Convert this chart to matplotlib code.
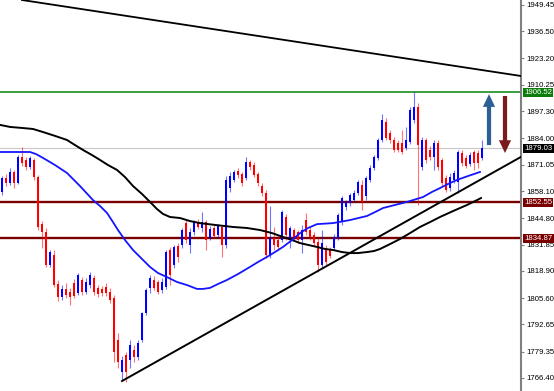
import matplotlib
matplotlib.use('Agg')
import matplotlib.pyplot as plt
import matplotlib.transforms as mtransforms
from matplotlib.patches import Rectangle

# candle data
opens = [1857.7, 1864.6, 1862.1, 1867.5, 1862.1, 1874.9, 1873.4, 1869.9, 1873.4, 1865.0,
         1841.9, 1838.0, 1821.8, 1826.7, 1812.5, 1806.2, 1810.1, 1808.6, 1813.0, 1808.1,
         1814.5, 1808.6, 1812.0, 1815.5, 1810.6, 1810.1, 1811.0, 1808.6, 1805.7, 1785.0,
         1769.3, 1777.7, 1775.2, 1780.1, 1776.7, 1785.0, 1798.3, 1810.6, 1814.5, 1813.5,
         1809.6, 1811.0, 1829.2, 1821.8, 1831.2, 1831.7, 1842.4, 1831.7, 1838.0, 1842.9,
         1840.0, 1842.9, 1835.1, 1840.0, 1836.6, 1840.5, 1831.7, 1859.6, 1863.6, 1868.0,
         1866.5, 1864.6, 1872.4, 1870.9, 1866.5, 1860.6, 1857.2, 1826.7, 1835.1, 1834.1,
         1834.1, 1845.4, 1835.1, 1839.0, 1838.0, 1834.1, 1843.9, 1839.0, 1836.6, 1833.1,
         1821.8, 1830.2, 1829.2, 1830.2, 1835.1, 1842.9, 1850.3, 1852.3, 1853.7, 1857.2,
         1861.1, 1855.7, 1863.6, 1869.5, 1874.4, 1883.2, 1892.0, 1886.6, 1883.2, 1881.7,
         1881.7, 1879.3, 1882.2, 1893.0, 1899.4, 1869.9, 1883.2, 1878.3, 1874.9, 1881.7,
         1873.4, 1864.6, 1859.6, 1863.6, 1862.6, 1876.8, 1874.4, 1871.4, 1877.3, 1876.8,
         1874.4]
highs = [1865.6, 1866.5, 1869.5, 1868.5, 1875.9, 1879.8, 1874.9, 1875.4, 1874.4, 1866.0,
         1843.4, 1840.0, 1829.2, 1829.2, 1814.5, 1812.0, 1813.0, 1810.6, 1815.0, 1817.9,
         1815.9, 1815.5, 1818.4, 1816.9, 1812.0, 1811.6, 1813.0, 1810.6, 1807.1, 1788.5,
         1777.2, 1779.1, 1785.0, 1782.6, 1785.0, 1798.8, 1810.6, 1816.9, 1816.4, 1814.5,
         1815.5, 1829.2, 1830.7, 1831.7, 1832.6, 1840.0, 1843.9, 1840.0, 1843.9, 1844.4,
         1847.8, 1843.9, 1841.0, 1841.5, 1841.9, 1841.5, 1865.6, 1867.5, 1868.5, 1869.5,
         1867.5, 1874.9, 1873.4, 1872.4, 1867.5, 1862.1, 1858.7, 1850.8, 1840.5, 1836.6,
         1848.8, 1846.9, 1841.0, 1840.0, 1839.0, 1841.5, 1847.4, 1840.5, 1838.0, 1835.1,
         1839.0, 1831.7, 1830.7, 1837.0, 1847.4, 1855.7, 1853.7, 1857.2, 1858.7, 1863.6,
         1863.6, 1865.6, 1870.9, 1875.9, 1884.2, 1896.0, 1894.0, 1888.1, 1884.7, 1883.2,
         1888.1, 1889.6, 1899.4, 1906.52, 1901.3, 1884.7, 1884.2, 1880.2, 1883.2, 1883.2,
         1874.4, 1866.0, 1867.0, 1868.5, 1878.3, 1878.3, 1875.9, 1877.3, 1878.3, 1878.3,
         1883.2]
lows = [1856.2, 1860.6, 1861.1, 1859.6, 1861.6, 1870.4, 1868.5, 1869.0, 1863.6, 1839.0,
        1830.2, 1820.9, 1820.9, 1811.0, 1804.2, 1804.7, 1805.7, 1802.2, 1805.7, 1807.1,
        1807.1, 1807.6, 1810.6, 1807.1, 1806.2, 1806.6, 1806.6, 1803.2, 1774.2, 1771.3,
        1764.9, 1764.4, 1771.3, 1774.2, 1775.2, 1784.0, 1797.3, 1808.1, 1809.6, 1807.6,
        1808.1, 1810.1, 1812.0, 1820.4, 1823.3, 1830.2, 1832.6, 1827.7, 1836.5, 1839.5,
        1838.0, 1829.2, 1834.1, 1835.1, 1835.1, 1825.8, 1830.2, 1857.7, 1862.6, 1864.6,
        1860.6, 1863.6, 1868.5, 1865.0, 1860.6, 1855.7, 1825.3, 1825.3, 1829.2, 1829.2,
        1833.1, 1834.1, 1830.2, 1834.1, 1832.6, 1827.7, 1836.6, 1834.1, 1831.2, 1818.4,
        1820.4, 1821.8, 1825.3, 1829.2, 1834.1, 1841.5, 1848.8, 1850.8, 1852.8, 1856.2,
        1848.8, 1853.7, 1862.6, 1868.5, 1873.4, 1882.2, 1883.2, 1881.7, 1877.3, 1877.3,
        1876.3, 1878.3, 1881.2, 1891.5, 1851.3, 1868.5, 1871.9, 1873.4, 1868.5, 1868.5,
        1860.6, 1857.7, 1858.2, 1862.1, 1857.2, 1870.4, 1869.5, 1870.4, 1868.5, 1869.5,
        1873.4]
closes = [1864.6, 1862.1, 1867.5, 1862.1, 1874.9, 1871.9, 1869.9, 1874.4, 1865.0, 1840.5,
          1838.0, 1821.8, 1828.2, 1812.0, 1806.2, 1810.1, 1807.1, 1806.2, 1806.6, 1816.9,
          1808.6, 1813.5, 1816.9, 1808.6, 1807.6, 1808.1, 1808.1, 1804.7, 1779.1, 1774.2,
          1775.2, 1769.3, 1782.6, 1776.7, 1783.6, 1798.3, 1809.6, 1815.5, 1810.6, 1808.6,
          1813.5, 1828.2, 1816.9, 1830.7, 1825.8, 1839.0, 1834.1, 1838.0, 1842.9, 1840.5,
          1842.9, 1834.1, 1839.5, 1836.1, 1841.5, 1831.7, 1863.6, 1865.6, 1867.5, 1866.0,
          1862.1, 1872.4, 1869.9, 1866.0, 1862.1, 1857.2, 1826.7, 1835.1, 1831.7, 1830.7,
          1847.8, 1836.6, 1840.0, 1835.6, 1834.1, 1839.0, 1838.0, 1835.6, 1832.6, 1821.8,
          1832.6, 1823.3, 1826.3, 1835.6, 1846.4, 1854.7, 1852.8, 1856.2, 1857.2, 1862.6,
          1852.8, 1864.6, 1869.5, 1874.9, 1883.2, 1893.0, 1884.2, 1883.2, 1878.3, 1878.3,
          1877.3, 1883.2, 1897.9, 1899.4, 1880.7, 1883.2, 1873.4, 1874.9, 1881.7, 1869.9,
          1862.1, 1858.7, 1865.0, 1867.0, 1877.3, 1871.9, 1870.4, 1875.9, 1871.9, 1871.9,
          1879.03]

# moving averages (sampled along the drawn curves, x in bar units)
ma_fast_x = [-0.5, 3.25, 7, 8.5, 10.25, 13.25, 16.25, 19.5, 22.75, 24.5, 26.25, 27.75, 29,
             30.75, 32.75, 35, 37, 39, 41.25, 43.75, 46.25, 48.75, 50.25, 52, 54, 56.25, 59,
             62, 64, 66.25, 68.25, 70.25, 72.5, 74.5, 76.5, 78.75, 82.75, 87, 91.25, 93.25,
             95.25, 98.25, 101.25, 105.25, 107.5, 109.5, 111.5, 113.75, 116.5, 119.5]
ma_fast_y = [1877.3, 1877.3, 1877.3, 1876.3, 1874.4, 1870.9, 1867.0, 1860.6, 1853.7, 1850.8,
             1847.4, 1842.9, 1839.0, 1834.1, 1829.2, 1824.8, 1820.9, 1817.9, 1815.9, 1813.5,
             1812.0, 1810.1, 1810.1, 1810.6, 1812.5, 1814.5, 1817.4, 1820.9, 1823.3, 1825.8,
             1828.2, 1830.7, 1834.1, 1837.5, 1840.0, 1841.9, 1842.4, 1843.9, 1845.9, 1847.8,
             1849.8, 1851.3, 1852.8, 1855.2, 1857.7, 1859.6, 1861.6, 1863.6, 1865.5, 1867.5]
ma_slow_x = [-0.5, 2, 5, 7.75, 10.25, 13.25, 16.25, 18.25, 20.25, 22.5, 24.5, 26.5, 28.75,
             30.75, 32.75, 35, 37, 38.75, 40.25, 42, 44.5, 47, 49.5, 53.25, 57.75, 61.25,
             64.5, 67.5, 70.25, 72.5, 74.5, 76.5, 78.75, 80.75, 82.75, 85, 87, 89, 91.25, 93,
             94.5, 97, 99.5, 102, 104.5, 107, 109.5, 112.75, 116.25, 118.25, 119.75]
ma_slow_y = [1890.6, 1889.6, 1889.1, 1888.6, 1887.1, 1885.2, 1883.2, 1880.7, 1878.3, 1875.8,
             1873.4, 1870.9, 1868.5, 1865.0, 1860.6, 1856.7, 1852.8, 1849.3, 1846.9, 1845.4,
             1844.9, 1843.4, 1842.4, 1841.5, 1840.5, 1840.0, 1839.0, 1837.5, 1835.6, 1834.1,
             1832.6, 1831.7, 1830.7, 1829.7, 1829.2, 1828.2, 1827.7, 1827.7, 1828.2, 1828.7,
             1829.7, 1832.1, 1834.6, 1837.5, 1840.5, 1842.9, 1845.4, 1848.3, 1851.3, 1853.2,
             1854.7]

# trend lines
upper_trend_x = [5, 129.75]
upper_trend_y = [1951.9, 1914.6]
lower_trend_x = [30, 129.75]
lower_trend_y = [1764.9, 1874.9]

# horizontal levels
resistance = 1906.52
last_price = 1879.03
support_levels = [1852.55, 1834.87]

tick_values = [1949.45, 1936.50, 1923.20, 1910.25, 1897.30, 1884.00, 1871.05, 1858.10,
               1844.80, 1831.85, 1818.90, 1805.60, 1792.65, 1779.35, 1766.40]

fig = plt.figure(figsize=(5.54, 3.91), dpi=100)
ax = fig.add_axes([0, 0, 521 / 554, 1])

# levels
ax.axhline(resistance, color='#1e8c1e', lw=1.2, zorder=1)
ax.axhline(last_price, color='#c8c8c8', lw=0.8, zorder=1)
for lv in support_levels:
    ax.axhline(lv, color='#7a0000', lw=1.7, zorder=1)

# candles
for i in range(len(closes)):
    o, h, l, c = opens[i], highs[i], lows[i], closes[i]
    col = '#0000ff' if c >= o else '#ff0000'
    ax.vlines(i, l, h, color=col, lw=0.8, alpha=0.55, zorder=2)
    bottom = min(o, c)
    height = max(abs(c - o), 0.4)
    ax.add_patch(Rectangle((i - 0.3, bottom), 0.6, height, facecolor=col, edgecolor='none', zorder=3))

# moving averages
ax.plot(ma_slow_x, ma_slow_y, color='black', lw=1.4, zorder=4, solid_joinstyle='round')
ax.plot(ma_fast_x, ma_fast_y, color='#1515ff', lw=1.3, zorder=4, solid_joinstyle='round')

# trend lines
ax.plot(upper_trend_x, upper_trend_y, color='black', lw=1.3, zorder=5)
ax.plot(lower_trend_x, lower_trend_y, color='black', lw=1.4, zorder=5)

# arrows
ax.annotate('', xy=(121.75, 1905.7), xytext=(121.75, 1880.7),
            arrowprops=dict(arrowstyle='simple,head_length=1.15,head_width=1.1,tail_width=0.38',
                            fc='#2b5f96', ec='none', mutation_scale=8, shrinkA=0, shrinkB=0), zorder=6)
ax.annotate('', xy=(125.75, 1876.8), xytext=(125.75, 1904.8),
            arrowprops=dict(arrowstyle='simple,head_length=1.15,head_width=1.1,tail_width=0.38',
                            fc='#7a1c1c', ec='none', mutation_scale=8, shrinkA=0, shrinkB=0), zorder=6)

ax.set_xlim(-0.5, 129.75)
ax.set_ylim(1760.0, 1951.9)
ax.set_xticks([])
ax.yaxis.tick_right()
ax.set_yticks(tick_values)
ax.set_yticklabels(['%.2f' % v for v in tick_values], fontfamily='Liberation Sans')
ax.tick_params(axis='y', direction='out', length=2.5, width=0.8, color='#808080',
               pad=1.5, labelsize=5.6, labelcolor='black')
for s in ['left', 'top', 'bottom']:
    ax.spines[s].set_visible(False)
ax.spines['right'].set_color('#808080')
ax.spines['right'].set_linewidth(1.5)

# price boxes on the axis
trans = mtransforms.blended_transform_factory(ax.transAxes, ax.transData)
boxes = [(resistance, '#0a7d0a'), (last_price, 'black'),
         (support_levels[0], '#7a0000'), (support_levels[1], '#7a0000')]
for val, col in boxes:
    ax.text(1.0 + 3 / 521, val, '%.2f' % val, transform=trans, ha='left', va='center',
            fontsize=5.6, color='white', fontfamily='Liberation Sans', clip_on=False, zorder=10,
            bbox=dict(boxstyle='square,pad=0.18', fc=col, ec='none'))

fig.savefig('out.png', dpi=100)
